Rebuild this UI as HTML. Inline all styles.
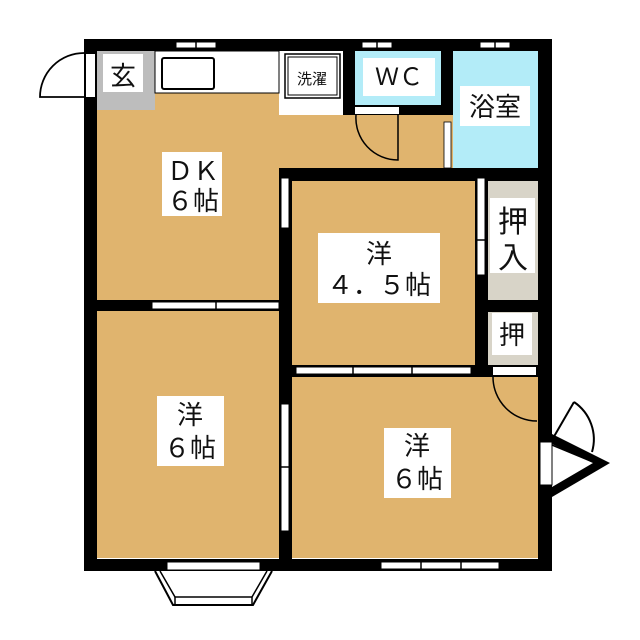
<!DOCTYPE html>
<html><head><meta charset="utf-8"><style>
html,body{margin:0;padding:0;background:#fff;}
svg{display:block;}
text{font-family:"Liberation Sans","Noto Sans CJK JP",sans-serif;fill:#111;}
</style></head><body>
<svg width="640" height="640" viewBox="0 0 640 640" xmlns="http://www.w3.org/2000/svg">
<!-- floors -->
<rect x="97" y="51" width="182" height="249" fill="#e0b46e"/>
<rect x="279" y="115" width="174" height="54" fill="#e0b46e"/>
<rect x="97" y="311" width="182" height="247" fill="#e0b46e"/>
<rect x="292" y="181" width="183" height="184" fill="#e0b46e"/>
<rect x="292" y="377" width="246" height="181" fill="#e0b46e"/>
<rect x="355" y="51" width="86" height="54" fill="#b3ecf8"/>
<rect x="453" y="51" width="85" height="117" fill="#b3ecf8"/>
<rect x="488" y="181" width="50" height="119" fill="#d8d4c8"/>
<rect x="488" y="312" width="50" height="53" fill="#d8d4c8"/>
<rect x="97" y="51" width="58" height="59" fill="#bdbdbd"/>
<!-- walls -->
<g fill="#000">
<rect x="84" y="39" width="468" height="12"/>
<rect x="84" y="559" width="468" height="12"/>
<rect x="84" y="39" width="13" height="532"/>
<rect x="538" y="39" width="14" height="532"/>
<rect x="343" y="39" width="12" height="76"/>
<rect x="343" y="105" width="110" height="10"/>
<rect x="441" y="39" width="12" height="76"/>
<rect x="279" y="168" width="273" height="13"/>
<rect x="279" y="168" width="13" height="403"/>
<rect x="84" y="300" width="208" height="11"/>
<rect x="475" y="168" width="13" height="209"/>
<rect x="279" y="365" width="273" height="12"/>
<rect x="475" y="300" width="77" height="12"/>
</g>
<!-- kitchen counter -->
<rect x="155" y="51" width="124" height="42" fill="#fff" stroke="#000" stroke-width="1"/>
<rect x="162" y="58" width="52" height="31" rx="2" fill="#fff" stroke="#000" stroke-width="2"/>
<rect x="285" y="54" width="55" height="44" fill="#fff" stroke="#000" stroke-width="1.5"/>
<rect x="288" y="57" width="49" height="38" fill="#fff" stroke="#000" stroke-width="1"/>
<!-- entrance door -->
<rect x="86" y="54" width="9" height="43" fill="#fff"/>
<path d="M84 97 L40 97 A44 44 0 0 1 84 53" fill="none" stroke="#000" stroke-width="1.8"/>
<!-- WC door -->
<rect x="355" y="107" width="44" height="7" fill="#fff"/>
<path d="M356 115 A42 42 0 0 0 398 160 L398 115" fill="none" stroke="#000" stroke-width="1.5"/>
<rect x="444" y="122" width="7" height="46" fill="#fff" stroke="#000" stroke-width="0.8"/>
<!-- bottom-right room door -->
<rect x="493" y="367" width="43" height="8" fill="#fff"/>
<path d="M493 377 A44 44 0 0 0 537 421" fill="none" stroke="#000" stroke-width="1.5"/>
<!-- windows / sliding doors -->
<g fill="#fff" stroke="#000" stroke-width="1">
<rect x="176" y="42" width="40" height="6"/>
<rect x="362" y="42" width="30" height="6"/>
<rect x="480" y="42" width="30" height="6"/>
<rect x="152" y="302" width="127" height="7"/>
<rect x="296" y="367" width="175" height="7"/>
<rect x="381" y="562" width="118" height="7"/>
<rect x="281" y="404" width="8" height="127"/>
<rect x="281" y="178" width="8" height="50"/>
<rect x="477" y="178" width="8" height="97"/>
<rect x="167" y="562" width="93" height="8"/>
</g>
<g stroke="#000" stroke-width="1.5">
<line x1="196" y1="39" x2="196" y2="51"/><line x1="377" y1="39" x2="377" y2="51"/><line x1="495" y1="39" x2="495" y2="51"/>
<line x1="216" y1="300" x2="216" y2="311"/><line x1="353" y1="365" x2="353" y2="377"/><line x1="412" y1="365" x2="412" y2="377"/>
<line x1="421" y1="559" x2="421" y2="571"/><line x1="461" y1="559" x2="461" y2="571"/>
<line x1="279" y1="467" x2="292" y2="467"/><line x1="475" y1="240" x2="488" y2="240"/>
</g>
<!-- bay window -->
<path d="M155 571 L173 605 L253 605 L272 571" fill="none" stroke="#000" stroke-width="2"/>
<path d="M160 571 L175 597 L252 597 L267 571" fill="none" stroke="#000" stroke-width="1.5"/>
<line x1="175" y1="597" x2="175" y2="605" stroke="#000" stroke-width="1.5"/>
<line x1="252" y1="597" x2="252" y2="605" stroke="#000" stroke-width="1.5"/>
<!-- right door -->
<path d="M552 434 L610 463 L552 497 Z" fill="#000"/>
<path d="M552 444 L593 463 L552 487 Z" fill="#fff"/>
<rect x="540" y="442" width="12" height="43" fill="#fff" stroke="#000" stroke-width="1"/>
<line x1="552" y1="445" x2="593" y2="462" stroke="#000" stroke-width="1.5"/>
<line x1="552" y1="440" x2="574" y2="402" stroke="#000" stroke-width="2"/>
<path d="M574 402 A45 45 0 0 1 592 452" fill="none" stroke="#000" stroke-width="2"/>
<!-- labels -->
<g fill="#fff">
<rect x="103" y="54" width="40" height="38"/>
<rect x="162" y="152" width="60" height="64"/>
<rect x="363" y="58" width="72" height="38"/>
<rect x="460" y="86" width="70" height="40"/>
<rect x="318" y="233" width="122" height="70"/>
<rect x="490" y="198" width="45" height="75"/>
<rect x="492" y="313" width="40" height="42"/>
<rect x="157" y="396" width="67" height="70"/>
<rect x="384" y="428" width="67" height="70"/>
</g>
<g font-size="26" text-anchor="middle">
<text x="123" y="85">玄</text>
<text x="193" y="180">ＤＫ</text>
<text x="193" y="210">６帖</text>
<text x="399" y="85" font-size="24">ＷＣ</text>
<text x="495" y="116">浴室</text>
<text x="379" y="263">洋</text>
<text x="379" y="294">４．５帖</text>
<text x="513" y="232" font-size="30">押</text>
<text x="513" y="268" font-size="30">入</text>
<text x="512" y="344">押</text>
<text x="190" y="424">洋</text>
<text x="190" y="457">６帖</text>
<text x="417" y="455">洋</text>
<text x="417" y="488">６帖</text>
<text x="312" y="84" font-size="15">洗濯</text>
</g>
</svg>
</body></html>
